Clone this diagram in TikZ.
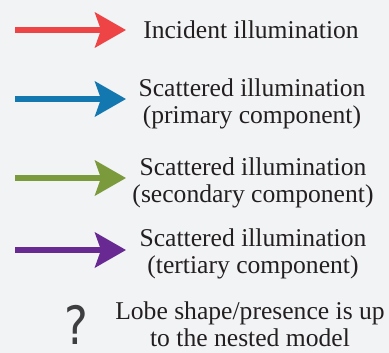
\documentclass[tikz,border=0pt]{standalone}
\usepackage{fontspec}
\setmainfont{Liberation Serif}
\newfontfamily\qfont{DejaVu Sans}
\usepackage{xcolor}
\usetikzlibrary{arrows.meta}

\definecolor{bgpaper}{RGB}{242,243,245}
\definecolor{txtdark}{RGB}{35,31,32}
\definecolor{incred}{RGB}{238,68,70}
\definecolor{primblue}{RGB}{20,120,176}
\definecolor{secgreen}{RGB}{122,154,60}
\definecolor{terpurple}{RGB}{104,42,146}
\definecolor{qgrey}{RGB}{62,62,64}

\begin{document}
\begin{tikzpicture}[x=1bp,y=-1bp,
        >={Stealth[length=31bp,width=35bp,inset=6bp]}]
        \tikzstyle{legend text}=[inner sep=0pt, anchor=base, align=center,
            text=txtdark, font=\fontsize{25.7}{26.6}\selectfont]
        \tikzstyle{ray}=[draw=#1, line width=5.5bp, ->]

        \fill[bgpaper] (0,0) rectangle (389,353);
        \useasboundingbox (0,0) rectangle (389,353);

        % legend texts (anchored on the baseline of the last line)
        \node[legend text] (inc) at (251,38)  {Incident illumination};
        \node[legend text] (pri) at (252,123) {Scattered illumination\\(primary component)};
        \node[legend text] (sec) at (253,202) {Scattered illumination\\(secondary component)};
        \node[legend text] (ter) at (253,273) {Scattered illumination\\(tertiary component)};
        \node[legend text] (lob) at (250,346) {Lobe shape/presence is up\\to the nested model};

        % arrow ends
        \coordinate (incL) at (15,30);   \coordinate (incR) at (126,30);
        \coordinate (priL) at (15,99);   \coordinate (priR) at (126,99);
        \coordinate (secL) at (15,178);  \coordinate (secR) at (126,178);
        \coordinate (terL) at (15,250);  \coordinate (terR) at (126,250);

        \draw[ray=incred]    (incL) -- (incR);
        \draw[ray=primblue]  (priL) -- (priR);
        \draw[ray=secgreen]  (secL) -- (secR);
        \draw[ray=terpurple] (terL) -- (terR);

        \node[inner sep=0pt, anchor=base, text=qgrey, xscale=0.85,
            font=\qfont\fontsize{53}{53}\selectfont] (qm) at (76,344) {?};
    \end{tikzpicture}
\end{document}
